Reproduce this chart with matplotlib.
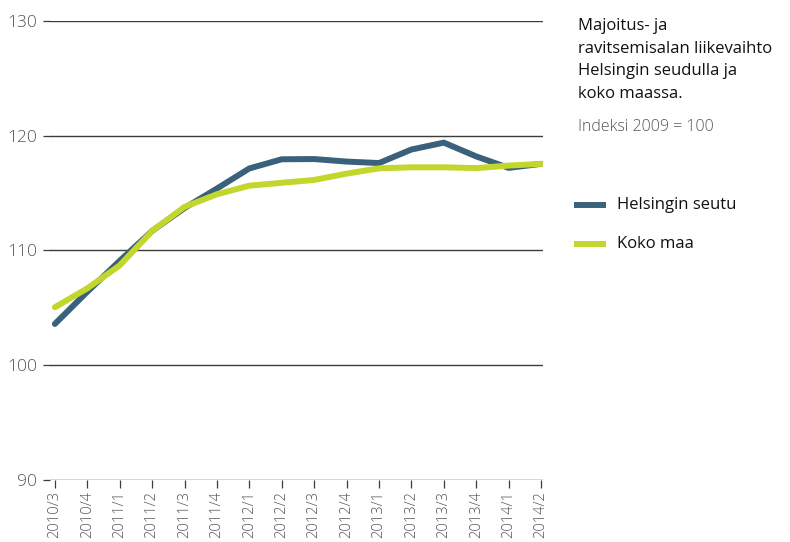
import matplotlib
matplotlib.use("Agg")
import matplotlib.pyplot as plt

plt.rcParams['font.family'] = ['Open Sans', 'DejaVu Sans']

quarters = ["2010/3", "2010/4", "2011/1", "2011/2", "2011/3", "2011/4",
            "2012/1", "2012/2", "2012/3", "2012/4", "2013/1", "2013/2",
            "2013/3", "2013/4", "2014/1", "2014/2"]
helsinki = [103.6, 106.4, 109.1, 111.7, 113.7, 115.4, 117.15, 117.95,
            117.97, 117.75, 117.62, 118.8, 119.4, 118.2, 117.2, 117.55]
koko_maa = [105.05, 106.7, 108.7, 111.7, 113.8, 114.9, 115.65, 115.9,
            116.15, 116.7, 117.16, 117.25, 117.25, 117.18, 117.4, 117.55]
yticks = [90, 100, 110, 120, 130]

c_hel = "#3a617b"
c_koko = "#c3d62c"
grid_c = "#3c3c3c"
tick_c = "#555555"

fig = plt.figure(figsize=(7.9, 5.42), dpi=100)
ax = fig.add_axes([50/790, 1-480/542, (543-50)/790, (480-21)/542])

x = list(range(len(quarters)))
ax.plot(x, helsinki, color=c_hel, lw=4.3, solid_capstyle='round', zorder=3)
ax.plot(x, koko_maa, color=c_koko, lw=4.3, solid_capstyle='round', zorder=4)

ax.set_ylim(90, 130)
ax.set_xlim(-0.15, 15.06)
ax.set_yticks(yticks)
for v in yticks:
    ax.axhline(v, color=grid_c, lw=1.0, zorder=1)
for s in ax.spines.values():
    s.set_visible(False)
ax.set_xticks(x)
ax.set_xticklabels(quarters, rotation=90, fontsize=10.5, color=tick_c,
                   fontweight='light')
ax.tick_params(axis='x', length=6, width=0.9, color=grid_c, pad=2)
ax.tick_params(axis='y', length=5, width=0.9, color=grid_c, labelsize=12.5,
               labelcolor=tick_c, pad=4)
for lab in ax.get_yticklabels():
    lab.set_fontweight('light')

fig.text(578/790, 1-18/542,
         "Majoitus- ja\nravitsemisalan liikevaihto\nHelsingin seudulla ja\nkoko maassa.",
         fontsize=12, color="#111111", va='top', ha='left', linespacing=1.55)
fig.text(578/790, 1-127/542, "Indeksi 2009 = 100", fontsize=11.5,
         color="#555555", va='center', ha='left', fontweight='light')

for y, lab, c in [(205, "Helsingin seutu", c_hel), (244, "Koko maa", c_koko)]:
    fig.add_artist(plt.Line2D([577/790, 603/790], [1-y/542, 1-y/542],
                              color=c, lw=4.3, transform=fig.transFigure))
    fig.text(617/790, 1-y/542, lab, fontsize=12, color="#111111",
             va='center', ha='left')

fig.savefig("out.png", dpi=100)
